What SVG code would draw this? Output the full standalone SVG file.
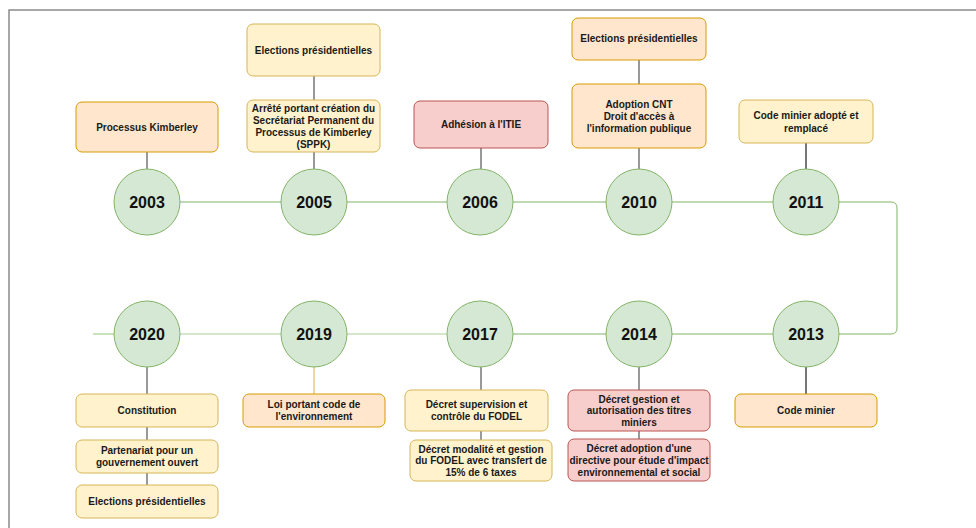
<svg xmlns="http://www.w3.org/2000/svg" width="976" height="528" viewBox="0 0 976 528">
  <style>
    .frame { fill: none; stroke: #8a8a8a; stroke-width: 1.5; }
    .year circle { fill: #d5e8d4; stroke: #82b366; stroke-width: 1; }
    .year text { font-family: "Liberation Sans", Arial, sans-serif; font-weight: bold; font-size: 16px; fill: #111; text-anchor: middle; }
    .box rect { stroke-width: 1; }
    .box text { font-family: "Liberation Sans", Arial, sans-serif; font-weight: bold; font-size: 10px; fill: #1a1a1a; text-anchor: middle; }
    .yellow rect { fill: #fff2cc; stroke: #d6b656; }
    .orange rect { fill: #ffe6cc; stroke: #d79b00; }
    .red rect { fill: #f8cecc; stroke: #b85450; }
    .timeline { fill: none; stroke: #82b366; stroke-width: 1; }
    .timeline-light { fill: none; stroke: #a9d08f; stroke-width: 1.2; }
    .link { stroke: #555; stroke-width: 1.2; }
    .link-thick { stroke: #777; stroke-width: 2; }
    .link-orange { stroke: #f0c77f; stroke-width: 1.5; }
  </style>

  <!-- outer frame -->
  <rect class="frame" x="9" y="10" width="1000" height="560"/>

  <!-- connectors -->
  <g id="connectors">
    <!-- top row timeline -->
    <line class="timeline" x1="180" y1="202" x2="281" y2="202"/>
    <line class="timeline" x1="347" y1="202" x2="447" y2="202"/>
    <line class="timeline" x1="513" y1="202" x2="606" y2="202"/>
    <line class="timeline" x1="672" y1="202" x2="773" y2="202"/>
    <!-- turn from 2011 down to 2013 -->
    <path class="timeline" d="M839 202 H891 Q897 202 897 208 V328 Q897 334 891 334 H839"/>
    <!-- bottom row timeline -->
    <line class="timeline" x1="672" y1="334" x2="773" y2="334"/>
    <line class="timeline" x1="513" y1="334" x2="606" y2="334"/>
    <line class="timeline-light" x1="347" y1="334" x2="447" y2="334"/>
    <line class="timeline-light" x1="180" y1="334" x2="281" y2="334"/>
    <line class="timeline-light" x1="93" y1="334" x2="114" y2="334"/>

    <!-- event links, top row -->
    <line class="link" x1="147" y1="152" x2="147" y2="169"/>
    <line class="link" x1="314" y1="76" x2="314" y2="100"/>
    <line class="link" x1="314" y1="152" x2="314" y2="169"/>
    <line class="link" x1="481" y1="148" x2="481" y2="169"/>
    <line class="link" x1="639" y1="60" x2="639" y2="84"/>
    <line class="link" x1="639" y1="148" x2="639" y2="169"/>
    <line class="link-thick" x1="806" y1="143" x2="806" y2="169"/>

    <!-- event links, bottom row -->
    <line class="link" x1="147" y1="367" x2="147" y2="394"/>
    <line class="link" x1="147" y1="427" x2="147" y2="440"/>
    <line class="link" x1="147" y1="473" x2="147" y2="485"/>
    <line class="link-orange" x1="314" y1="367" x2="314" y2="394"/>
    <line class="link" x1="481" y1="367" x2="481" y2="390"/>
    <line class="link" x1="481" y1="431" x2="481" y2="440"/>
    <line class="link" x1="639" y1="367" x2="639" y2="390"/>
    <line class="link" x1="639" y1="431" x2="639" y2="439"/>
    <line class="link-thick" x1="806" y1="367" x2="806" y2="394"/>
  </g>

  <!-- years -->
  <g id="y2003" class="year"><circle cx="147" cy="202" r="33"/><text x="147" y="208">2003</text></g>
  <g id="y2005" class="year"><circle cx="314" cy="202" r="33"/><text x="314" y="208">2005</text></g>
  <g id="y2006" class="year"><circle cx="480" cy="202" r="33"/><text x="480" y="208">2006</text></g>
  <g id="y2010" class="year"><circle cx="639" cy="202" r="33"/><text x="639" y="208">2010</text></g>
  <g id="y2011" class="year"><circle cx="806" cy="202" r="33"/><text x="806" y="208">2011</text></g>
  <g id="y2020" class="year"><circle cx="147" cy="334" r="33"/><text x="147" y="340">2020</text></g>
  <g id="y2019" class="year"><circle cx="314" cy="334" r="33"/><text x="314" y="340">2019</text></g>
  <g id="y2017" class="year"><circle cx="480" cy="334" r="33"/><text x="480" y="340">2017</text></g>
  <g id="y2014" class="year"><circle cx="639" cy="334" r="33"/><text x="639" y="340">2014</text></g>
  <g id="y2013" class="year"><circle cx="806" cy="334" r="33"/><text x="806" y="340">2013</text></g>

  <!-- events, top row -->
  <g id="e2003-kimberley" class="box orange">
    <rect x="76" y="102" width="142" height="50" rx="6"/>
    <text x="147" y="130.5">Processus Kimberley</text>
  </g>
  <g id="e2005-elections" class="box yellow">
    <rect x="247" y="24" width="133" height="52" rx="6"/>
    <text x="313.5" y="53.5">Elections présidentielles</text>
  </g>
  <g id="e2005-sppk" class="box yellow">
    <rect x="247" y="100" width="133" height="52" rx="6"/>
    <text x="313.5" y="112">Arrêté portant création du</text>
    <text x="313.5" y="124">Secrétariat Permanent du</text>
    <text x="313.5" y="136">Processus de Kimberley</text>
    <text x="313.5" y="148">(SPPK)</text>
  </g>
  <g id="e2006-itie" class="box red">
    <rect x="414" y="101" width="134" height="47" rx="6"/>
    <text x="481" y="128">Adhésion à l'ITIE</text>
  </g>
  <g id="e2010-elections" class="box orange">
    <rect x="572" y="18" width="134" height="42" rx="6"/>
    <text x="639" y="42">Elections présidentielles</text>
  </g>
  <g id="e2010-cnt" class="box orange">
    <rect x="572" y="84" width="134" height="64" rx="6"/>
    <text x="639" y="108">Adoption CNT</text>
    <text x="639" y="120">Droit d'accès à</text>
    <text x="639" y="132">l'information publique</text>
  </g>
  <g id="e2011-code" class="box yellow">
    <rect x="739" y="100" width="134" height="43" rx="6"/>
    <text x="806" y="119">Code minier adopté et</text>
    <text x="806" y="131.5">remplacé</text>
  </g>

  <!-- events, bottom row -->
  <g id="e2020-constitution" class="box yellow">
    <rect x="76" y="394" width="142" height="33" rx="6"/>
    <text x="147" y="414">Constitution</text>
  </g>
  <g id="e2020-pgo" class="box yellow">
    <rect x="76" y="440" width="142" height="33" rx="6"/>
    <text x="147" y="454">Partenariat pour un</text>
    <text x="147" y="466">gouvernement ouvert</text>
  </g>
  <g id="e2020-elections" class="box yellow">
    <rect x="76" y="485" width="142" height="33" rx="6"/>
    <text x="147" y="505">Elections présidentielles</text>
  </g>
  <g id="e2019-environnement" class="box orange">
    <rect x="243" y="394" width="142" height="33" rx="6"/>
    <text x="314" y="408">Loi portant code de</text>
    <text x="314" y="420">l'environnement</text>
  </g>
  <g id="e2017-supervision" class="box yellow">
    <rect x="405" y="390" width="143" height="41" rx="6"/>
    <text x="476.5" y="408">Décret supervision et</text>
    <text x="476.5" y="420">contrôle du FODEL</text>
  </g>
  <g id="e2017-modalite" class="box yellow">
    <rect x="410" y="440" width="142" height="41" rx="6"/>
    <text x="481" y="452.5">Décret modalité et gestion</text>
    <text x="481" y="464">du FODEL avec transfert de</text>
    <text x="481" y="475.5">15% de 6 taxes</text>
  </g>
  <g id="e2014-titres" class="box red">
    <rect x="568" y="390" width="142" height="41" rx="6"/>
    <text x="639" y="402.5">Décret gestion et</text>
    <text x="639" y="414">autorisation des titres</text>
    <text x="639" y="426">miniers</text>
  </g>
  <g id="e2014-impact" class="box red">
    <rect x="568" y="439" width="142" height="42" rx="6"/>
    <text x="639" y="452">Décret adoption d'une</text>
    <text x="639" y="464">directive pour étude d'impact</text>
    <text x="639" y="476">environnemental et social</text>
  </g>
  <g id="e2013-code" class="box orange">
    <rect x="735" y="394" width="142" height="33" rx="6"/>
    <text x="806" y="414">Code minier</text>
  </g>
</svg>
